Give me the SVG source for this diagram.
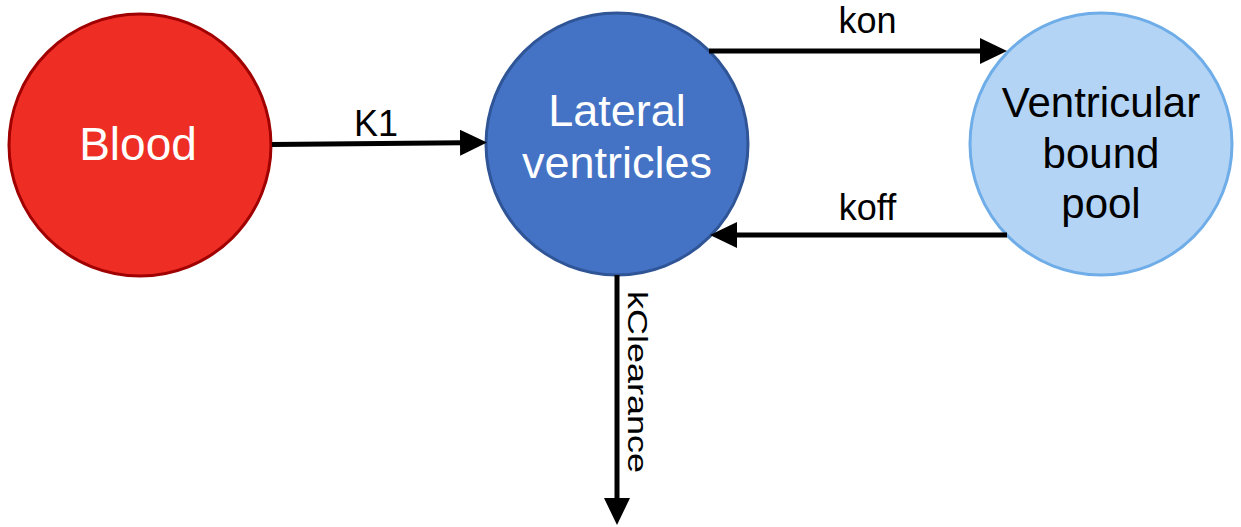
<svg xmlns="http://www.w3.org/2000/svg" width="1241" height="527" viewBox="0 0 1241 527">
<style>
.node circle{stroke-width:3}
.nt{font-family:"Liberation Sans",Arial,sans-serif;text-anchor:middle}
.el{font-family:"Liberation Sans",Arial,sans-serif;font-size:36px;fill:#000}
.conn line{stroke:#000;stroke-width:5;fill:none}
</style>
<defs>
<marker id="ah" markerUnits="userSpaceOnUse" markerWidth="30" markerHeight="28" refX="2" refY="13" orient="auto">
<path d="M0,0 L27,13 L0,26 Z" fill="#000"/>
</marker>
</defs>
<rect width="1241" height="527" fill="#fff"/>
<g id="blood" class="node">
<circle cx="140" cy="145" r="131" fill="#EE2E24" stroke="#A00000"/>
<text class="nt" x="138" y="160" font-size="46" fill="#fff">Blood</text>
</g>
<g id="lateral" class="node">
<circle cx="617" cy="144" r="131" fill="#4472C4" stroke="#2F5597"/>
<text class="nt" x="617" y="126" font-size="45" fill="#fff">Lateral</text>
<text class="nt" x="617" y="178" font-size="45" fill="#fff">ventricles</text>
</g>
<g id="pool" class="node">
<circle cx="1101" cy="144" r="131" fill="#B4D4F5" stroke="#6FADE8"/>
<text class="nt" x="1101" y="117" font-size="42" fill="#000">Ventricular</text>
<text class="nt" x="1101" y="168" font-size="42" fill="#000">bound</text>
<text class="nt" x="1101" y="218" font-size="42" fill="#000">pool</text>
</g>
<g id="connectors" class="conn">
<line x1="272" y1="144.5" x2="462" y2="142.7" marker-end="url(#ah)"/>
<line x1="709" y1="51" x2="982" y2="51" marker-end="url(#ah)"/>
<line x1="1007" y1="235" x2="735" y2="235" marker-end="url(#ah)"/>
<line x1="617" y1="275" x2="617" y2="500" marker-end="url(#ah)"/>
</g>
<g id="labels">
<text class="el" x="376" y="136" text-anchor="middle">K1</text>
<text class="el" x="867.5" y="33" text-anchor="middle">kon</text>
<text class="el" x="867.5" y="220" text-anchor="middle">koff</text>
<text class="el" transform="translate(628,291) rotate(90) scale(1,0.76)" x="0" y="0">kClearance</text>
</g>
</svg>
